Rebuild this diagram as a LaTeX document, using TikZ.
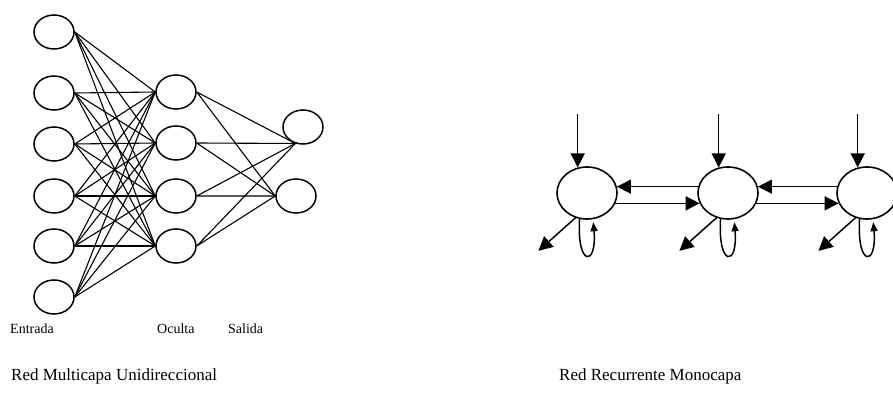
\documentclass[tikz,border=0pt]{standalone}
\usepackage{fontspec}
\setmainfont{Liberation Serif}
\usepackage{tikz}
\usetikzlibrary{shapes.geometric,arrows.meta}
\tikzset{neuron/.style={draw,ellipse,line width=1.5pt,minimum width=40pt,minimum height=34pt,inner sep=0pt},
  unit/.style={draw,ellipse,line width=1.6pt,minimum width=60pt,minimum height=52pt,inner sep=0pt},
  syn/.style={line width=1.1pt},
  flow/.style={line width=1.5pt,-{Triangle[length=14pt,width=14pt]}},
  back/.style={line width=1.5pt,-{Triangle[length=9pt,width=7pt]},shorten >=3pt},
  lbl/.style={font=\fontsize{14}{16}\selectfont,anchor=base west,inner sep=0pt},
  ttl/.style={font=\fontsize{17}{20}\selectfont,anchor=base west,inner sep=0pt}}

\begin{document}
\begin{tikzpicture}[x=1pt,y=-1pt]
\useasboundingbox (0,0) rectangle (893,395);
\node[neuron] (e1) at (54,32) {}; \node[neuron] (e2) at (54,93) {}; \node[neuron] (e3) at (54,144) {};
\node[neuron] (e4) at (54,196) {}; \node[neuron] (e5) at (54,246) {}; \node[neuron] (e6) at (54,297) {};
\node[neuron] (o1) at (176,92) {}; \node[neuron] (o2) at (176,143) {}; \node[neuron] (o3) at (176,196) {}; \node[neuron] (o4) at (176,246) {};
\node[neuron] (s1) at (303,127) {}; \node[neuron] (s2) at (296,196) {};
\foreach \i in {1,...,6} \foreach \j in {1,...,4} \draw[syn] (e\i.east) -- (o\j.west);
\foreach \j in {1,...,4} \draw[syn] (o\j.east) -- (s1.-115) (o\j.east) -- (s2.west);
\node[lbl] (le) at (10,333) {Entrada}; \node[lbl] (lo) at (157,333) {Oculta}; \node[lbl] (ls) at (228,333) {Salida};
\node[ttl] (t1) at (11,380) {Red Multicapa Unidireccional};
% red recurrente
\node[unit] (r1) at (587,193) {}; \node[unit] (r2) at (728,193) {}; \node[unit] (r3) at (867,193) {};
\coordinate (x1) at ([yshift=53pt]r1.110); \coordinate (x2) at ([yshift=53pt]r2.110); \coordinate (x3) at ([yshift=53pt]r3.110);
\coordinate (y1) at ([xshift=-37pt,yshift=-33pt]r1.-115); \coordinate (y2) at ([xshift=-37pt,yshift=-33pt]r2.-115); \coordinate (y3) at ([xshift=-37pt,yshift=-33pt]r3.-115);
\draw[flow] (x1) -- (r1.110); \draw[flow] (x2) -- (r2.110); \draw[flow] (x3) -- (r3.110);
\draw[flow] (r2.168) -- (r1.12); \draw[flow] (r1.-20) -- (r2.200);
\draw[flow] (r3.168) -- (r2.12); \draw[flow] (r2.-20) -- (r3.200);
\draw[flow] (r1.-115) -- (y1); \draw[flow] (r2.-115) -- (y2); \draw[flow] (r3.-115) -- (y3);
\draw[back] (r1.-106) .. controls +(-3,48) and +(4,48) .. (r1.-77);
\draw[back] (r2.-106) .. controls +(-3,48) and +(4,48) .. (r2.-77);
\draw[back] (r3.-106) .. controls +(-3,48) and +(4,48) .. (r3.-77);
\node[ttl] (t2) at (559,380) {Red Recurrente Monocapa};
\end{tikzpicture}
\end{document}
